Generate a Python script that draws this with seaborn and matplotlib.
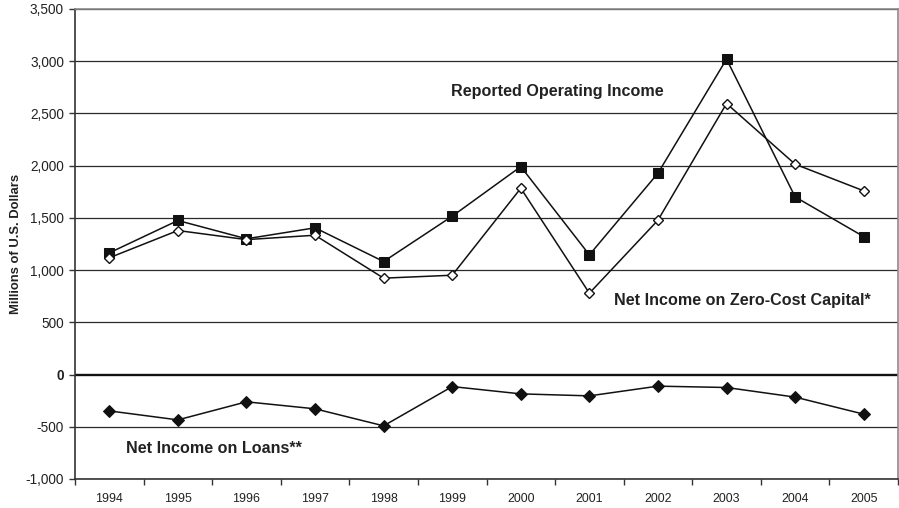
import numpy as np
import pandas as pd
import matplotlib
matplotlib.use("Agg")
import matplotlib.pyplot as plt
import seaborn as sns
from matplotlib.ticker import FuncFormatter

# values (millions of U.S. dollars)
years = [1994, 1995, 1996, 1997, 1998, 1999, 2000, 2001, 2002, 2003, 2004, 2005]
reported = [1165, 1475, 1300, 1405, 1082, 1516, 1991, 1146, 1928, 3020, 1701, 1321]
zero_cost = [1118, 1379, 1292, 1334, 923, 951, 1784, 779, 1478, 2595, 2014, 1759]
loans = [-348, -434, -261, -328, -491, -115, -185, -204, -111, -124, -216, -379]

sns.set_style("white")
plt.rcParams['font.family'] = ['Liberation Sans', 'DejaVu Sans']

df = pd.DataFrame({'pos': np.arange(len(years)), 'year': years,
                   'reported': reported, 'zero_cost': zero_cost, 'loans': loans})

fig = plt.figure(figsize=(8.99, 5.08), dpi=100)
ax = fig.add_axes([75/899, 1-479/508, 823/899, 470/508])

# gridlines first so lines sit on top
for v in range(-1000, 3501, 500):
    if v == 0:
        continue
    ax.axhline(v, color='#2a2a2a', lw=0.9, zorder=1)
ax.axhline(0, color='#111111', lw=1.7, zorder=1)

sns.lineplot(data=df, x='pos', y='reported', ax=ax, color='#111111', lw=1.1,
             marker='s', markersize=6.5, markeredgecolor='#111111', zorder=3)
sns.lineplot(data=df, x='pos', y='zero_cost', ax=ax, color='#111111', lw=1.1,
             marker='D', markersize=5, markerfacecolor='white',
             markeredgecolor='#111111', markeredgewidth=1.0, zorder=4)
sns.lineplot(data=df, x='pos', y='loans', ax=ax, color='#111111', lw=1.1,
             marker='D', markersize=6, markeredgecolor='#111111', zorder=3)

ax.set_xlim(-0.5, len(years) - 0.5)
ax.set_ylim(-1000, 3500)

# category axis: ticks between categories, labels centred
ax.set_xticks(np.arange(-0.5, len(years), 1.0))
ax.set_xticklabels([])
ax.set_xticks(df['pos'], minor=True)
ax.set_xticklabels([str(y) for y in years], minor=True, fontsize=8.9, color='#222222')
ax.tick_params(axis='x', which='major', direction='out', length=4, width=1, color='#333333', bottom=True)
ax.tick_params(axis='x', which='minor', length=0, pad=10)

ax.set_yticks(range(-1000, 3501, 500))
ax.yaxis.set_major_formatter(FuncFormatter(lambda v, p: f"{int(v):,}"))
ax.tick_params(axis='y', direction='out', length=4, width=1, color='#333333', left=True,
               labelsize=9.8, labelcolor='#222222', pad=4)
for lab in ax.get_yticklabels():
    if lab.get_text() == '0':
        lab.set_fontweight('bold')

ax.set_xlabel('')
ax.set_ylabel('')
fig.text(16/899, 1-244/508, 'Millions of U.S. Dollars', rotation=90, fontsize=9.4,
         fontweight='bold', color='#222222', ha='center', va='center')

for side in ['left', 'bottom']:
    ax.spines[side].set_color('#333333')
    ax.spines[side].set_linewidth(1.2)
for side in ['top', 'right']:
    ax.spines[side].set_color('#8a8a8a')
    ax.spines[side].set_linewidth(1.2)

txt = dict(fontsize=11.6, fontweight='bold', color='#222222', va='center', ha='left')
ax.text(4.98, 2707, 'Reported Operating Income', **txt)
ax.text(7.36, 708, 'Net Income on Zero-Cost Capital*', **txt)
ax.text(0.25, -711, 'Net Income on Loans**', **txt)

fig.savefig('out.png', dpi=100)
